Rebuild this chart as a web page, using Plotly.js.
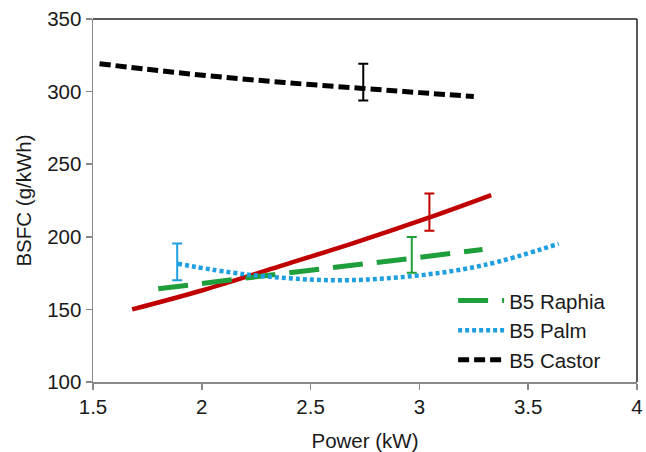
<!DOCTYPE html>
<html>
<head>
<meta charset="utf-8">
<script src="https://cdn.plot.ly/plotly-3.0.1.min.js"></script>
<style>html,body{margin:0;padding:0;background:#fff;}#chart{width:646px;height:452px;}</style>
</head>
<body>
<div id="chart"></div>
<script>
// Series data
const castorX = [1.53, 1.8, 2.08, 2.4, 2.74, 3.0, 3.25];
const castorY = [319.2, 314.5, 310.2, 306, 302.2, 299.3, 296.6];

const redX = [1.68, 2.0, 2.36, 2.7, 3.05, 3.33];
const redY = [150, 163, 179.8, 195.8, 213.5, 228.7];

const raphiaX = [1.80, 2.0, 2.5, 2.97, 3.29];
const raphiaY = [164.2, 168, 177, 185.3, 191.3];

const palmX = [1.89, 2.2, 2.6, 2.96, 3.3, 3.64];
const palmY = [181.4, 174.2, 170.1, 172.8, 180.6, 195.2];

// Error bars: one per series
const errX = [2.742, 3.046, 2.965, 1.887];
const errY = [306.5, 217, 187.5, 182.7];
const errSize = [12.6, 12.8, 12.3, 12.6];

const xTicks = [1.5, 2, 2.5, 3, 3.5, 4];
const xTickLabels = ['1.5', '2', '2.5', '3', '3.5', '4'];
const yTicks = [100, 150, 200, 250, 300, 350];

const cBlack = '#000000', cRed = '#c00000', cGreen = '#1f9e3c', cBlue = '#1e9fe0';
const errColors = [cBlack, cRed, cGreen, cBlue];

const traces = [
  {x: redX, y: redY, mode: 'lines', line: {color: cRed, width: 4.5, shape: 'spline'}, showlegend: false, hoverinfo: 'skip'},
  {x: raphiaX, y: raphiaY, mode: 'lines', name: 'B5 Raphia', legendgroup: 'a',
   line: {color: cGreen, width: 5, dash: '30px,14px'}},
  {x: palmX, y: palmY, mode: 'lines', name: 'B5 Palm', legendgroup: 'b',
   line: {color: cBlue, width: 4.5, dash: '4px,3px', shape: 'spline'}},
  {x: castorX, y: castorY, mode: 'lines', name: 'B5 Castor', legendgroup: 'c',
   line: {color: cBlack, width: 5, dash: '11px,5px', shape: 'spline'}}
];
for (let i = 0; i < errX.length; i++) {
  traces.push({
    x: [errX[i]], y: [errY[i]], mode: 'markers', marker: {size: 1, color: 'rgba(0,0,0,0)'},
    showlegend: false, hoverinfo: 'skip',
    error_y: {type: 'data', array: [errSize[i]], visible: true, color: errColors[i], thickness: 2, width: 5}
  });
}

const font = {family: 'Liberation Sans, Arial, sans-serif', size: 20.5, color: '#1a1a1a'};
const layout = {
  width: 646, height: 452,
  margin: {l: 93, r: 9, t: 19, b: 70},
  paper_bgcolor: '#fff', plot_bgcolor: '#fff',
  font: font,
  showlegend: true,
  legend: {x: 0.662, xanchor: 'left', y: 0.279, yanchor: 'top', bgcolor: 'rgba(0,0,0,0)',
           borderwidth: 0, font: font, traceorder: 'grouped', tracegroupgap: 0, itemwidth: 46},
  xaxis: {range: [1.5, 4], tickvals: xTicks, ticktext: xTickLabels, ticks: 'outside', ticklen: 6,
          tickcolor: '#888', tickwidth: 1.5, showline: true, linecolor: '#888', linewidth: 1.5,
          showgrid: false, zeroline: false, tickfont: font,
          title: {text: 'Power (kW)', font: font, standoff: 17}},
  yaxis: {range: [100, 350], tickvals: yTicks, ticks: 'outside', ticklen: 6,
          tickcolor: '#888', tickwidth: 1.5, showline: true, linecolor: '#888', linewidth: 1.5,
          showgrid: false, zeroline: false, tickfont: font,
          title: {text: 'BSFC (g/kWh)', font: font, standoff: 10}},
  shapes: [
    {type: 'line', xref: 'paper', yref: 'paper', x0: 0, x1: 1, y0: 1, y1: 1, line: {color: '#222', width: 1.5}},
    {type: 'line', xref: 'paper', yref: 'paper', x0: 1, x1: 1, y0: 0, y1: 1, line: {color: '#222', width: 1.5}}
  ]
};
Plotly.newPlot('chart', traces, layout, {displayModeBar: false, staticPlot: true});
</script>
</body>
</html>
